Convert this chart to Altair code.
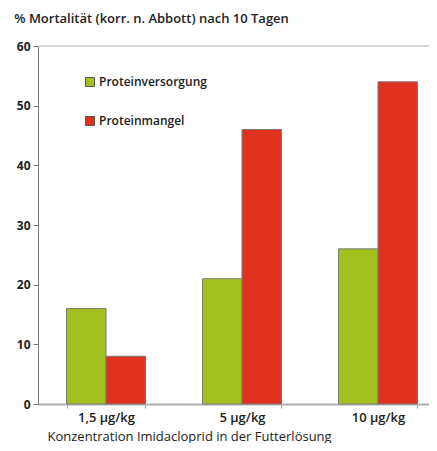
import altair as alt
import pandas as pd

categories = ["1,5 µg/kg", "5 µg/kg", "10 µg/kg"]
series = ["Proteinversorgung", "Proteinmangel"]
versorgung = [16, 21, 26]
mangel = [8, 46, 54]
colors = ["#a3c11e", "#e0301e"]

rows = []
for c, v in zip(categories, versorgung):
    rows.append({"Konz": c, "Gruppe": series[0], "Wert": v})
for c, v in zip(categories, mangel):
    rows.append({"Konz": c, "Gruppe": series[1], "Wert": v})
df = pd.DataFrame(rows)

FONT = "Open Sans"

bars = alt.Chart(df).mark_bar(stroke="#7a7a7a", strokeWidth=1).encode(
    x=alt.X("Konz:N", sort=categories,
            scale=alt.Scale(range=[0, 408], paddingInner=0.42, paddingOuter=0.21),
            axis=alt.Axis(title="Konzentration Imidacloprid in der Futterlösung",
                          labelAngle=0, labelFont=FONT, labelFontSize=13,
                          labelFontWeight=600, labelColor="#222222", labelPadding=3,
                          tickBand="extent", tickSize=4, tickColor="#999999",
                          domainColor="#b0b0b0", domainWidth=2,
                          titleFont=FONT, titleFontSize=13, titleFontWeight="normal",
                          titleColor="#222222", titleAnchor="start", titleAlign="left",
                          titleX=9, titleY=36, titleBaseline="alphabetic")),
    xOffset=alt.XOffset("Gruppe:N", sort=series),
    y=alt.Y("Wert:Q", scale=alt.Scale(domain=[0, 60], nice=False),
            axis=alt.Axis(title=None, values=[0, 10, 20, 30, 40, 50, 60], grid=False,
                          labelFont=FONT, labelFontSize=12, labelFontWeight="bold",
                          labelColor="#222222", labelPadding=3, tickSize=5,
                          tickColor="#777777", domainColor="#777777")),
    color=alt.Color("Gruppe:N", sort=series,
                    scale=alt.Scale(domain=series, range=colors),
                    legend=alt.Legend(title=None, orient="none", legendX=46, legendY=30,
                                      symbolType="square", symbolSize=81,
                                      symbolStrokeColor="#555555", symbolStrokeWidth=1,
                                      labelFont=FONT, labelFontSize=12,
                                      labelFontWeight=600, labelColor="#222222",
                                      rowPadding=25, labelOffset=3)),
)

toprule = alt.Chart(pd.DataFrame({"y": [60]})).mark_rule(color="#d8d8d8", strokeWidth=2).encode(
    y="y:Q", x=alt.value(0), x2=alt.value(420)
)

chart = alt.layer(toprule, bars).properties(
    width=391, height=358,
    autosize=alt.AutoSizeParams(type="none"),
    padding={"left": 30, "top": 38, "right": 0, "bottom": 39},
    title=alt.TitleParams("% Mortalität (korr. n. Abbott) nach 10 Tagen",
                          anchor="start", dx=-2, offset=14, font=FONT, fontSize=13,
                          fontWeight=600, color="#222222"),
).configure_view(stroke=None)

chart.save("out.html", embed_options={"renderer": "svg", "actions": False})
